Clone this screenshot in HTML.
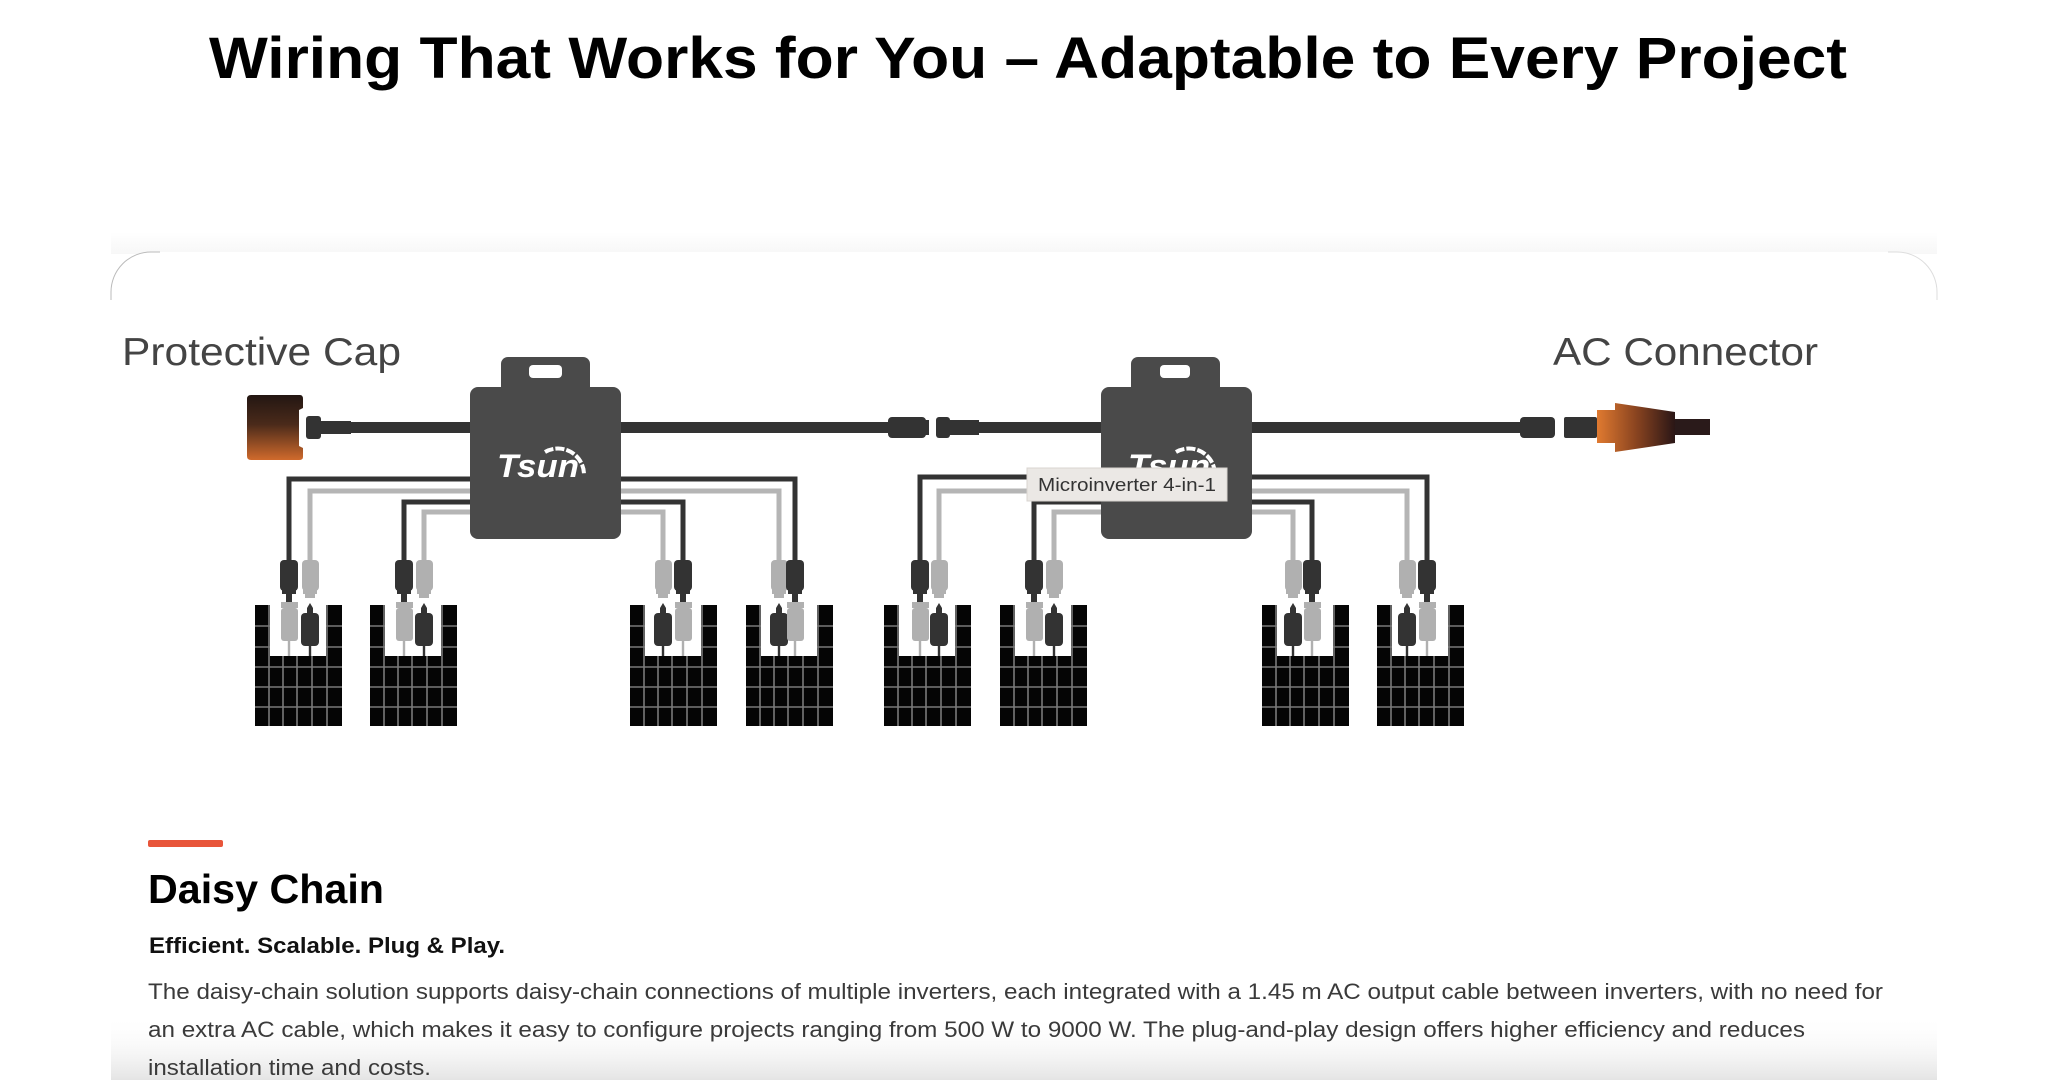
<!DOCTYPE html>
<html><head><meta charset="utf-8"><style>
html,body{margin:0;padding:0;background:#fff;}
svg{display:block;}
</style></head><body>
<svg width="2048" height="1080" viewBox="0 0 2048 1080" xmlns="http://www.w3.org/2000/svg" font-family="Liberation Sans, sans-serif">
<defs>
<linearGradient id="capg" x1="0" y1="0" x2="0" y2="1"><stop offset="0" stop-color="#231612"/><stop offset="0.45" stop-color="#4a2a1a"/><stop offset="1" stop-color="#d06a2c"/></linearGradient>
<linearGradient id="acg" x1="0" y1="0" x2="1" y2="0"><stop offset="0" stop-color="#e07a30"/><stop offset="0.5" stop-color="#8a4420"/><stop offset="1" stop-color="#2a1616"/></linearGradient>
<linearGradient id="botg" x1="0" y1="0" x2="0" y2="1"><stop offset="0" stop-color="#fff" stop-opacity="0"/><stop offset="1" stop-color="#e4e4e4"/></linearGradient>
<linearGradient id="topg" x1="0" y1="0" x2="0" y2="1"><stop offset="0" stop-color="#fff"/><stop offset="1" stop-color="#f7f7f7"/></linearGradient>
<g id="panel">
<rect x="0" y="0" width="87" height="121" fill="#050505"/>
<g stroke="#7a7a7a" stroke-width="1.6">
<line x1="0" y1="21" x2="87" y2="21"/><line x1="0" y1="42" x2="87" y2="42"/><line x1="0" y1="62" x2="87" y2="62"/><line x1="0" y1="82" x2="87" y2="82"/><line x1="0" y1="102" x2="87" y2="102"/>
<line x1="14" y1="0" x2="14" y2="121"/><line x1="28" y1="51" x2="28" y2="121"/><line x1="42" y1="51" x2="42" y2="121"/><line x1="57" y1="51" x2="57" y2="121"/><line x1="72" y1="0" x2="72" y2="121"/>
</g>
<rect x="15" y="-1" width="56" height="52" fill="#fff"/>
</g>
<g id="upB"><rect x="-9" y="0" width="18" height="31" rx="4" fill="#333"/><rect x="-7" y="29" width="14" height="5" fill="#333"/><rect x="-3" y="33" width="6" height="9" fill="#333"/><path d="M-3 42 L0 46 L3 42Z" fill="#333"/></g>
<g id="upG"><rect x="-8" y="0" width="17" height="31" rx="4" fill="#b0b0b0"/><rect x="-7" y="29" width="14" height="5" fill="#b0b0b0"/><rect x="-5" y="33" width="10" height="5" fill="#b0b0b0"/></g>
<g id="inB"><path d="M-3 8 L0 3 L3 8Z" fill="#333"/><rect x="-3" y="8" width="6" height="6" fill="#333"/><rect x="-9" y="13" width="18" height="33" rx="4" fill="#333"/><rect x="-1.2" y="45" width="2.4" height="11" fill="#333"/></g>
<g id="inG"><rect x="-8" y="2" width="17" height="6" fill="#b0b0b0"/><rect x="-8" y="8" width="17" height="33" rx="3" fill="#b0b0b0"/><rect x="-1.2" y="40" width="2.4" height="16" fill="#b0b0b0"/></g>
</defs>

<!-- card -->
<rect x="111" y="232" width="1826" height="22" fill="url(#topg)"/>
<path d="M111 1080 L111 292 A40 40 0 0 1 151 252 L1897 252 A40 40 0 0 1 1937 292 L1937 1080Z" fill="#fff"/>
<path d="M111 300 L111 292 A40 40 0 0 1 151 252 L160 252" fill="none" stroke="#bbb" stroke-width="1"/>
<path d="M1888 252 L1897 252 A40 40 0 0 1 1937 292 L1937 300" fill="none" stroke="#ddd" stroke-width="1"/>
<rect x="111" y="1015" width="1826" height="65" fill="url(#botg)"/>

<!-- title -->
<text x="209" y="78" font-size="58" font-weight="bold" fill="#000" textLength="1638" lengthAdjust="spacingAndGlyphs">Wiring That Works for You – Adaptable to Every Project</text>

<!-- labels -->
<text x="122" y="365" font-size="39" fill="#444" textLength="279" lengthAdjust="spacingAndGlyphs">Protective Cap</text>
<text x="1553" y="365" font-size="39" fill="#444" textLength="265" lengthAdjust="spacingAndGlyphs">AC Connector</text>

<!-- main cable -->
<g fill="#333">
<rect x="350" y="422" width="540" height="11"/>
<rect x="979" y="422" width="545" height="11"/>
</g>
<!-- protective cap -->
<path d="M247 399 Q247 395 251 395 L300 395 Q303 395 303 399 L303 408 L299 410 L299 446 L303 448 L303 457 Q303 460 299 460 L251 460 Q247 460 247 456Z" fill="url(#capg)"/>
<rect x="306" y="416" width="15" height="23" rx="3" fill="#333"/>
<rect x="319" y="421" width="32" height="13" fill="#333"/>
<!-- middle connectors -->
<rect x="888" y="417" width="38" height="21" rx="4" fill="#333"/>
<rect x="923" y="420" width="6" height="15" fill="#333"/>
<rect x="936" y="417" width="14" height="21" rx="3" fill="#333"/>
<rect x="948" y="420" width="31" height="15" fill="#333"/>
<!-- AC connector -->
<rect x="1520" y="417" width="35" height="21" rx="4" fill="#333"/>
<rect x="1564" y="417" width="33" height="21" rx="2" fill="#333"/>
<path d="M1597 410 L1615 410 L1615 403 L1675 412 L1675 443 L1615 452 L1615 443 L1597 443Z" fill="url(#acg)"/>
<rect x="1675" y="419" width="35" height="16" fill="#2a1a1a"/>

<!-- wires -->
<g fill="none" stroke-width="5" stroke-linejoin="miter">
<polyline points="475,479 289,479 289,562" stroke="#333"/>
<polyline points="475,491 310,491 310,562" stroke="#b5b5b5"/>
<polyline points="475,502 404,502 404,562" stroke="#333"/>
<polyline points="475,512 424,512 424,562" stroke="#b5b5b5"/>
<polyline points="615,479 795,479 795,562" stroke="#333"/>
<polyline points="615,491 779,491 779,562" stroke="#b5b5b5"/>
<polyline points="615,502 683,502 683,562" stroke="#333"/>
<polyline points="615,512 663,512 663,562" stroke="#b5b5b5"/>
<polyline points="1106,477 920,477 920,562" stroke="#333"/>
<polyline points="1106,491 939,491 939,562" stroke="#b5b5b5"/>
<polyline points="1106,502 1034,502 1034,562" stroke="#333"/>
<polyline points="1106,512 1054,512 1054,562" stroke="#b5b5b5"/>
<polyline points="1246,477 1427,477 1427,562" stroke="#333"/>
<polyline points="1246,491 1407,491 1407,562" stroke="#b5b5b5"/>
<polyline points="1246,502 1312,502 1312,562" stroke="#333"/>
<polyline points="1246,512 1293,512 1293,562" stroke="#b5b5b5"/>
</g>

<!-- inverters -->
<g fill="#4a4a4a">
<rect x="501" y="357" width="89" height="40" rx="7"/>
<rect x="470" y="387" width="151" height="152" rx="8"/>
<rect x="1131" y="357" width="89" height="40" rx="7"/>
<rect x="1101" y="387" width="151" height="152" rx="8"/>
</g>
<rect x="529" y="365" width="33" height="13" rx="4" fill="#fff"/>
<rect x="1160" y="365" width="30" height="13" rx="4" fill="#fff"/>
<g fill="#fff" font-size="32" font-weight="bold" font-style="italic">
<text x="497" y="477" textLength="82" lengthAdjust="spacingAndGlyphs">Tsun</text>
<text x="1128" y="477" textLength="82" lengthAdjust="spacingAndGlyphs">Tsun</text>
</g>
<g fill="none" stroke="#fff" stroke-width="4" stroke-dasharray="9 2">
<path d="M545 452 A26 26 0 0 1 584 474"/>
<path d="M1176 452 A26 26 0 0 1 1215 474"/>
</g>

<!-- panels -->
<use href="#panel" x="255" y="605"/>
<use href="#panel" x="370" y="605"/>
<use href="#panel" x="630" y="605"/>
<use href="#panel" x="746" y="605"/>
<use href="#panel" x="884" y="605"/>
<use href="#panel" x="1000" y="605"/>
<use href="#panel" x="1262" y="605"/>
<use href="#panel" x="1377" y="605"/>

<use href="#upB" x="289" y="560"/><use href="#upG" x="310" y="560"/>
<use href="#upB" x="404" y="560"/><use href="#upG" x="424" y="560"/>
<use href="#upG" x="663" y="560"/><use href="#upB" x="683" y="560"/>
<use href="#upG" x="779" y="560"/><use href="#upB" x="795" y="560"/>
<use href="#upB" x="920" y="560"/><use href="#upG" x="939" y="560"/>
<use href="#upB" x="1034" y="560"/><use href="#upG" x="1054" y="560"/>
<use href="#upG" x="1293" y="560"/><use href="#upB" x="1312" y="560"/>
<use href="#upG" x="1407" y="560"/><use href="#upB" x="1427" y="560"/>
<use href="#inG" x="289" y="600"/><use href="#inB" x="310" y="600"/>
<use href="#inG" x="404" y="600"/><use href="#inB" x="424" y="600"/>
<use href="#inB" x="663" y="600"/><use href="#inG" x="683" y="600"/>
<use href="#inB" x="779" y="600"/><use href="#inG" x="795" y="600"/>
<use href="#inG" x="920" y="600"/><use href="#inB" x="939" y="600"/>
<use href="#inG" x="1034" y="600"/><use href="#inB" x="1054" y="600"/>
<use href="#inB" x="1293" y="600"/><use href="#inG" x="1312" y="600"/>
<use href="#inB" x="1407" y="600"/><use href="#inG" x="1427" y="600"/>

<!-- tooltip -->
<rect x="1027" y="468" width="200" height="33" fill="#ebe8e5" stroke="#d8d4d0" stroke-width="1"/>
<text x="1038" y="491" font-size="18" fill="#333" textLength="178" lengthAdjust="spacingAndGlyphs">Microinverter 4-in-1</text>

<!-- text block -->
<rect x="148" y="840" width="75" height="7" rx="2" fill="#e8553a"/>
<text x="148" y="903" font-size="41" font-weight="bold" fill="#000" textLength="236" lengthAdjust="spacingAndGlyphs">Daisy Chain</text>
<text x="149" y="953" font-size="22" font-weight="bold" fill="#111" textLength="356" lengthAdjust="spacingAndGlyphs">Efficient. Scalable. Plug &amp; Play.</text>
<g font-size="22" fill="#3a3a3a">
<text x="148" y="999" textLength="1735" lengthAdjust="spacingAndGlyphs">The daisy-chain solution supports daisy-chain connections of multiple inverters, each integrated with a 1.45 m AC output cable between inverters, with no need for</text>
<text x="148" y="1037" textLength="1657" lengthAdjust="spacingAndGlyphs">an extra AC cable, which makes it easy to configure projects ranging from 500 W to 9000 W. The plug-and-play design offers higher efficiency and reduces</text>
<text x="148" y="1075" textLength="283" lengthAdjust="spacingAndGlyphs">installation time and costs.</text>
</g>
</svg>
</body></html>
